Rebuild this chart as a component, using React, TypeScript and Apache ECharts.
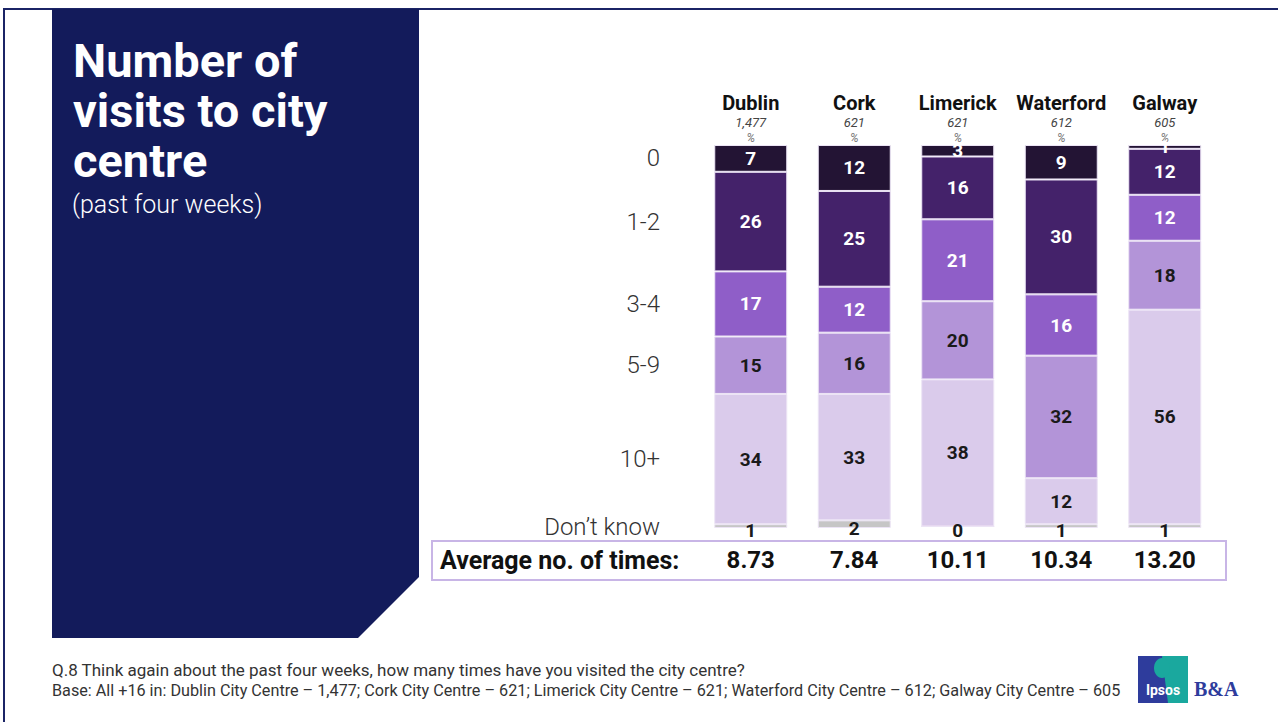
import React, { useEffect, useRef } from "react";
import * as echarts from "echarts";

const cities = ["Dublin", "Cork", "Limerick", "Waterford", "Galway"];
const bases = ["1,477", "621", "621", "612", "605"];
const averages = ["8.73", "7.84", "10.11", "10.34", "13.20"];
const answerLabels = ["0", "1-2", "3-4", "5-9", "10+", "Don\u2019t know"];
const titleLines = ["Number of", "visits to city", "centre"];

const pct0 = [7, 12, 3, 9, 1];
const pct12 = [26, 25, 16.4, 30, 12];
const pct34 = [17, 12, 21.4, 16, 12];
const pct59 = [15, 16, 20.4, 32, 18];
const pct10 = [34, 33, 38.4, 12, 56];
const pctDK = [1, 2, 0, 1, 1];

const seriesData = [pct0, pct12, pct34, pct59, pct10, pctDK];
const colors = ["#231434", "#44226a", "#8f5ec8", "#b394d8", "#dacbeb", "#c6c6c6"];
const labelColors = ["#ffffff", "#ffffff", "#ffffff", "#1a1a1a", "#1a1a1a", "#1a1a1a"];

const footer1 = "Q.8 Think again about the past four weeks, how many times have you visited the city centre?";
const footer2 =
  "Base: All +16 in: Dublin City Centre \u2013 1,477; Cork City Centre \u2013 621; Limerick City Centre \u2013 621; Waterford City Centre \u2013 612; Galway City Centre \u2013 605";

const FONT = "Roboto, 'Noto Sans', sans-serif";

export default function App() {
  const ref = useRef<HTMLDivElement>(null);
  useEffect(() => {
    if (!ref.current) return;
    const chart = echarts.init(ref.current, null, { renderer: "svg" });
    const series = seriesData.map((d, si) => ({
      name: answerLabels[si],
      type: "bar",
      stack: "total",
      barWidth: 73,
      data: d,
      itemStyle: { color: colors[si], borderColor: "#ece4f5", borderWidth: 1 },
      label: {
        show: true,
        position: "inside",
        offset: si === 5 ? [0, 4] : [0, 0],
        color: labelColors[si],
        fontFamily: FONT,
        fontWeight: "bold",
        fontSize: 19,
        formatter: (p: any) => String(Math.round(p.value)),
      },
    }));
    chart.setOption({
      animation: false,
      backgroundColor: "#ffffff",
      textStyle: { fontFamily: FONT },
      grid: { left: 699, width: 517.5, top: 145, height: 383 },
      xAxis: [
        {
          type: "category",
          data: cities,
          position: "top",
          axisLine: { show: false },
          axisTick: { show: false },
          axisLabel: {
            margin: 1,
            formatter: (v: string, i: number) => `{c|${v}}\n{b|${bases[i]}}\n{p|%}`,
            rich: {
              c: { fontSize: 20, fontWeight: "bold", color: "#111111", lineHeight: 21, fontFamily: FONT },
              b: { fontSize: 13, fontStyle: "italic", color: "#444444", lineHeight: 18, fontFamily: FONT },
              p: { fontSize: 12, fontStyle: "italic", color: "#777777", lineHeight: 13, fontFamily: FONT },
            },
          },
        },
        {
          type: "category",
          data: averages,
          position: "bottom",
          axisLine: { show: false },
          axisTick: { show: false },
          axisLabel: {
            margin: 19,
            fontSize: 24,
            fontWeight: "bold",
            color: "#111111",
            lineHeight: 26,
            fontFamily: FONT,
          },
        },
      ],
      yAxis: { type: "value", min: 0, max: 100, inverse: true, show: false },
      series,
    });

    // row labels aligned to Dublin segments
    const rowLabels: any[] = [];
    let cum = 0;
    seriesData.forEach((d, si) => {
      const mid = cum + d[0] / 2;
      cum += d[0];
      const pt = chart.convertToPixel({ xAxisIndex: 0, yAxisIndex: 0 }, [0, mid]) as number[];
      rowLabels.push({
        type: "text",
        x: 660,
        y: pt[1] + (si === 5 ? 1 : 0),
        style: {
          text: answerLabels[si],
          align: "right",
          verticalAlign: "middle",
          fontFamily: FONT,
          fontWeight: 300,
          fontSize: 24,
          fill: "#333333",
        },
      });
    });

    const titleTexts = titleLines.map((t, i) => ({
      type: "text",
      x: 73,
      y: 60 + i * 50,
      style: {
        text: t,
        fontFamily: FONT,
        fontWeight: "bold",
        fontSize: 47,
        fill: "#ffffff",
        align: "left",
        verticalAlign: "middle",
      },
    }));

    const graphics: any[] = [
      {
        type: "rect",
        shape: { x: 4, y: 9, width: 1300, height: 730 },
        style: { fill: "none", stroke: "#1b2466", lineWidth: 2 },
      },
      {
        type: "polygon",
        shape: { points: [[52, 9], [419, 9], [419, 577], [358, 638], [52, 638]] },
        style: { fill: "#131b5b" },
      },
      ...titleTexts,
      {
        type: "text",
        x: 72,
        y: 204,
        style: {
          text: "(past four weeks)",
          fontFamily: FONT,
          fontWeight: 300,
          fontSize: 25,
          fill: "#ffffff",
          align: "left",
          verticalAlign: "middle",
        },
      },
      {
        type: "rect",
        shape: { x: 432, y: 541, width: 794, height: 39 },
        style: { fill: "none", stroke: "#c8b5e6", lineWidth: 2 },
      },
      {
        type: "text",
        x: 440,
        y: 560,
        style: {
          text: "Average no. of times:",
          fontFamily: FONT,
          fontWeight: "bold",
          fontSize: 25,
          fill: "#111111",
          align: "left",
          verticalAlign: "middle",
        },
      },
      {
        type: "text",
        x: 52,
        y: 670,
        style: { text: footer1, fontFamily: FONT, fontSize: 17, fill: "#333333", verticalAlign: "middle" },
      },
      {
        type: "text",
        x: 52,
        y: 690,
        style: { text: footer2, fontFamily: FONT, fontSize: 16.2, fill: "#333333", verticalAlign: "middle" },
      },
      // Ipsos logo
      { type: "rect", shape: { x: 1138, y: 656, width: 50, height: 47 }, style: { fill: "#2e3c9c" } },
      {
        type: "polygon",
        shape: { points: [[1162, 656], [1188, 656], [1188, 703], [1168, 703], [1165, 680]] },
        style: { fill: "#1aa89e" },
      },
      { type: "ellipse", shape: { cx: 1162, cy: 668, rx: 8, ry: 10 }, style: { fill: "#1aa89e" } },
      {
        type: "text",
        x: 1163,
        y: 690,
        style: {
          text: "Ipsos",
          fontFamily: FONT,
          fontWeight: "bold",
          fontSize: 14,
          fill: "#ffffff",
          align: "center",
          verticalAlign: "middle",
        },
      },
      {
        type: "text",
        x: 1194,
        y: 689,
        style: {
          text: "B&A",
          fontFamily: "'Liberation Serif', serif",
          fontWeight: "bold",
          fontSize: 20,
          fill: "#2e3c9c",
          align: "left",
          verticalAlign: "middle",
        },
      },
      ...rowLabels,
    ];
    chart.setOption({ graphic: graphics });
    return () => chart.dispose();
  }, []);
  return (
    <div
      ref={ref}
      style={{ position: "fixed", left: 0, top: 0, width: 1278, height: 722 }}
    />
  );
}
